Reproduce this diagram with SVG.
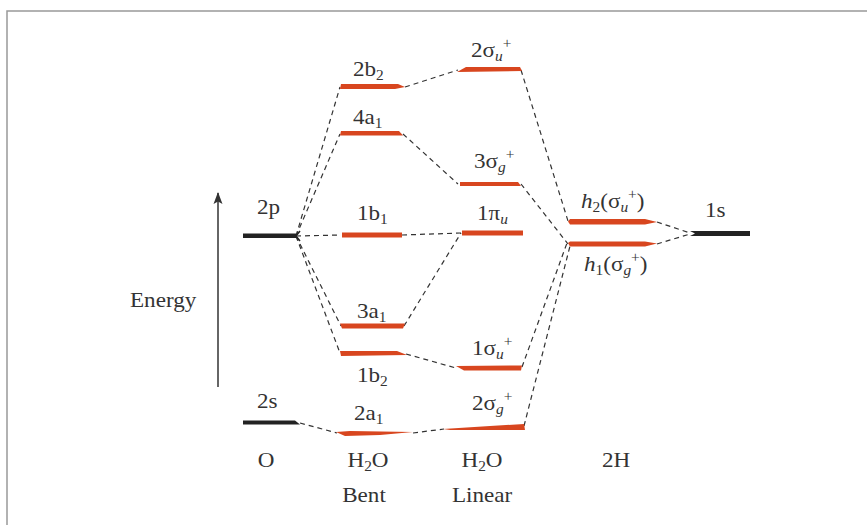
<svg xmlns="http://www.w3.org/2000/svg" width="867" height="525" viewBox="0 0 867 525">
<defs>
<style>
text{font-family:"Liberation Serif","Times New Roman",serif;font-size:21px;fill:#333}
.s{font-size:14px}
.i{font-style:italic}
.lv{fill:#d8461f}
.bk{fill:#222}
.d{fill:none;stroke:#333;stroke-width:1.2;stroke-dasharray:5 4}
</style>
<marker id="ah" markerWidth="12" markerHeight="10" refX="11" refY="5" orient="auto" markerUnits="userSpaceOnUse" viewBox="0 0 12 10">
<path d="M0 0.5 L12 5 L0 9.5 L2.5 5 Z" fill="#333"/>
</marker>
</defs>
<rect width="867" height="525" fill="#fff"/>
<path d="M7 525 V11 H867" fill="none" stroke="#999" stroke-width="1.5"/>

<g id="connectors">
<path class="d" d="M296 236 L340 87"/>
<path class="d" d="M296 236 L340 134"/>
<path class="d" d="M296 236 L341 235"/>
<path class="d" d="M296 236 L341 326"/>
<path class="d" d="M296 236 L340 353"/>
<path class="d" d="M405 87 L458 70"/>
<path class="d" d="M403 134 L458 184"/>
<path class="d" d="M402 235 L461 233"/>
<path class="d" d="M404 326 L461 233"/>
<path class="d" d="M406 354 L456 368"/>
<path class="d" d="M300 423 L337 433"/>
<path class="d" d="M413 433 L444 429"/>
<path class="d" d="M521 70 L568 221"/>
<path class="d" d="M521 184 L568 244"/>
<path class="d" d="M522 367 L567 243"/>
<path class="d" d="M524 426 L570 246"/>
<path class="d" d="M657 222 L690 233"/>
<path class="d" d="M657 244 L690 234"/>
</g>

<g id="energy">
<line x1="218" y1="387" x2="218" y2="193" stroke="#333" stroke-width="1.5" marker-end="url(#ah)"/>
<text transform="translate(130 307) scale(1.1 1)">Energy</text>
</g>

<g id="O-2p">
<polygon class="bk" points="243,233.5 296,233.5 296,238 243,238"/>
<path d="M296 236 L300 231 M296 236 L300 241" stroke="#222" stroke-width="1.5"/>
<text transform="translate(257 214) scale(1.1 1)">2p</text>
</g>
<g id="O-2s">
<polygon class="bk" points="243,420.5 295,420.5 300,424.5 243,424.5"/>
<text transform="translate(257 408) scale(1.1 1)">2s</text>
</g>

<g id="b-2b2">
<polygon class="lv" points="341,84 398,84 405,87 395,89 340,89"/>
<text transform="translate(353 76) scale(1.1 1)">2b<tspan class="s" dy="4">2</tspan></text>
</g>
<g id="b-4a1">
<polygon class="lv" points="341,131 399,131 403,135.5 340,135.5"/>
<text transform="translate(353 124) scale(1.1 1)">4a<tspan class="s" dy="4">1</tspan></text>
</g>
<g id="b-1b1">
<rect class="lv" x="342" y="232.5" width="60" height="5"/>
<text transform="translate(357 220) scale(1.1 1)">1b<tspan class="s" dy="4">1</tspan></text>
</g>
<g id="b-3a1">
<polygon class="lv" points="340,323.5 405,323.5 403,328.5 342,328.5"/>
<text transform="translate(357 318) scale(1.1 1)">3a<tspan class="s" dy="4">1</tspan></text>
</g>
<g id="b-1b2">
<polygon class="lv" points="340,351 397,351 407,355 341,356"/>
<text transform="translate(357 382) scale(1.1 1)">1b<tspan class="s" dy="4">2</tspan></text>
</g>
<g id="b-2a1">
<polygon class="lv" points="336,432 350,431 413,432 380,435 345,436"/>
<text transform="translate(354 420) scale(1.1 1)">2a<tspan class="s" dy="4">1</tspan></text>
</g>

<g id="l-2su">
<polygon class="lv" points="466,67 520,67 522,71 457,72"/>
<text transform="translate(471 57) scale(1.1 1)">2σ<tspan class="s i" dy="4">u</tspan><tspan class="s" dy="-13">+</tspan></text>
</g>
<g id="l-3sg">
<polygon class="lv" points="460,182 518,182 521,186 460,186"/>
<text transform="translate(474 168) scale(1.1 1)">3σ<tspan class="s i" dy="4">g</tspan><tspan class="s" dy="-13">+</tspan></text>
</g>
<g id="l-1pu">
<rect class="lv" x="462" y="230.5" width="61" height="5"/>
<text transform="translate(477 220) scale(1.1 1)">1π<tspan class="s i" dy="4">u</tspan></text>
</g>
<g id="l-1su">
<polygon class="lv" points="456,366 522,365.5 521,370.5 464,370.5"/>
<text transform="translate(472 355) scale(1.1 1)">1σ<tspan class="s i" dy="4">u</tspan><tspan class="s" dy="-13">+</tspan></text>
</g>
<g id="l-2sg">
<polygon class="lv" points="443,429 490,426 524,424 525,430 450,430"/>
<text transform="translate(472 410) scale(1.1 1)">2σ<tspan class="s i" dy="4">g</tspan><tspan class="s" dy="-13">+</tspan></text>
</g>

<g id="h2">
<polygon class="lv" points="570,219 645,219 657,222 645,224.5 570,224.5 568,221.5"/>
<text transform="translate(581 208) scale(1.1 1)"><tspan class="i">h</tspan><tspan class="s" dy="4">2</tspan><tspan dy="-4">(σ</tspan><tspan class="s i" dy="4">u</tspan><tspan class="s" dy="-13">+</tspan><tspan dy="9">)</tspan></text>
</g>
<g id="h1">
<polygon class="lv" points="570,241.5 645,241.5 657,243.5 645,246.5 570,246.5 568,243"/>
<text transform="translate(584 271) scale(1.1 1)"><tspan class="i">h</tspan><tspan class="s" dy="4">1</tspan><tspan dy="-4">(σ</tspan><tspan class="s i" dy="4">g</tspan><tspan class="s" dy="-13">+</tspan><tspan dy="9">)</tspan></text>
</g>
<g id="H-1s">
<polygon class="bk" points="690,231 750,231 750,236 690,236 695,233.5"/>
<text transform="translate(705 217) scale(1.1 1)">1s</text>
</g>

<g id="axis-labels">
<text transform="translate(266 467) scale(1.1 1)" text-anchor="middle">O</text>
<text transform="translate(368 467) scale(1.1 1)" text-anchor="middle">H<tspan class="s" dy="4">2</tspan><tspan dy="-4">O</tspan></text>
<text transform="translate(364 502) scale(1.1 1)" text-anchor="middle">Bent</text>
<text transform="translate(482 467) scale(1.1 1)" text-anchor="middle">H<tspan class="s" dy="4">2</tspan><tspan dy="-4">O</tspan></text>
<text transform="translate(482 502) scale(1.1 1)" text-anchor="middle">Linear</text>
<text transform="translate(616 467) scale(1.1 1)" text-anchor="middle">2H</text>
</g>
</svg>
